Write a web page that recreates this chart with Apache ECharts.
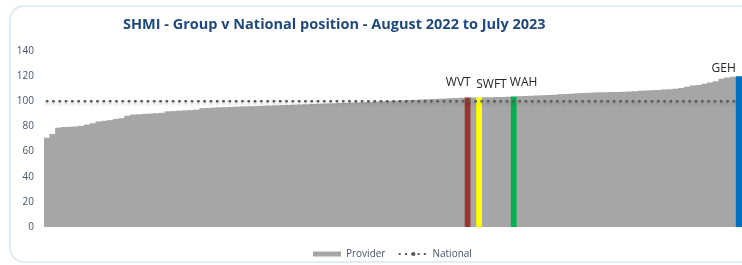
<!DOCTYPE html>
<html>
<head>
<meta charset="utf-8">
<script src="https://cdn.jsdelivr.net/npm/echarts@6/dist/echarts.min.js"></script>
<style>
  html, body { margin: 0; padding: 0; background: #fff; }
  #chart { width: 742px; height: 265px; }
</style>
</head>
<body>
<div id="chart"></div>
<script>
// SHMI per provider, sorted low to high
var providerValues = [
    71, 74, 79, 79.5, 79.7, 80, 80.5, 81.5, 82.5, 84,
    84.5, 85, 86, 86.5, 88.5, 89.5, 89.7, 90, 90.2, 90.5,
    90.8, 92, 92.2, 92.5, 92.8, 93, 93.3, 94.5, 94.7, 95,
    95.2, 95.3, 95.5, 95.7, 95.9, 96, 96.1, 96.3, 96.5, 96.6,
    96.8, 97, 97.1, 97.3, 97.5, 97.6, 97.8, 98, 98.1, 98.3,
    98.4, 98.6, 98.8, 99, 99.1, 99.3, 99.5, 99.7, 99.9, 100.1,
    100.3, 100.5, 100.7, 101, 101.2, 101.4, 101.6, 101.8, 102, 102.2,
    102.4, 102.6, 102.8, 103, 103, 103.1, 103.2, 103.3, 103.4, 103.5,
    103.6, 103.8, 104, 104.2, 104.4, 104.6, 104.8, 105, 105.2, 105.5,
    105.8, 106, 106.3, 106.5, 106.7, 107, 107.1, 107.2, 107.3, 107.4,
    107.5, 107.7, 108, 108.3, 108.5, 108.8, 109, 109.3, 109.6, 110,
    110.5, 111.5, 112.5, 113, 114, 115, 116, 118, 119, 119.5,
    120
];
var nationalValue = 100;
var highlightNames = ['WVT', 'SWFT', 'WAH', 'GEH'];
var highlightIndex = [73, 75, 81, 120];
var yTicks = [0, 20, 40, 60, 80, 100, 120, 140];

addLoadEvent(function() {
    var myChart = echarts.init(document.getElementById('chart')),
        colors = { WVT: '#953735', SWFT: '#FFFF00', WAH: '#00B050', GEH: '#0070C0' },
        // label placement relative to the bar rect
        labelPos = {
            WVT: { position: [6, -15], align: 'right' },
            SWFT: { position: [0, -13], align: 'left' },
            WAH: { position: [-1, -14], align: 'left' },
            GEH: { position: [0, -8], align: 'right' }
        },
        categories = providerValues.map(function(v, i) {
            var k = highlightIndex.indexOf(i);
            return k >= 0 ? highlightNames[k] : 'P' + (i + 1);
        }),
        barData = providerValues.map(function(v, i) {
            var k = highlightIndex.indexOf(i);
            if (k < 0) return v;
            var name = highlightNames[k];
            return {
                value: v,
                itemStyle: { color: colors[name] },
                label: {
                    show: true,
                    formatter: name,
                    position: labelPos[name].position,
                    align: labelPos[name].align,
                    verticalAlign: 'middle',
                    color: '#262626',
                    fontSize: 12,
                    fontFamily: 'Open Sans'
                }
            };
        }),
        option = {
            backgroundColor: '#ffffff',
            animation: false,
            title: {
                text: 'SHMI - Group v National position - August 2022 to July 2023',
                left: 118,
                top: 12,
                textStyle: {
                    color: '#1F497D',
                    fontSize: 14.5,
                    fontWeight: 'bold',
                    fontFamily: 'Open Sans'
                }
            },
            graphic: [
                {
                    type: 'rect',
                    shape: { x: 10, y: 6, width: 760, height: 256, r: 14 },
                    style: { fill: 'none', stroke: '#DCE6F2', lineWidth: 1.5 },
                    silent: true
                }
            ],
            legend: {
                left: 308,
                top: 244,
                itemWidth: 28,
                itemHeight: 5,
                itemGap: 13,
                textStyle: { color: '#44546A', fontSize: 10, fontFamily: 'Open Sans' },
                data: [
                    { name: 'Provider', icon: 'rect' },
                    { name: 'National' }
                ]
            },
            grid: {
                left: 44,
                top: 51,
                width: 701,
                height: 176
            },
            xAxis: {
                type: 'category',
                data: categories,
                axisLine: { show: false },
                axisTick: { show: false },
                axisLabel: { show: false }
            },
            yAxis: {
                type: 'value',
                min: yTicks[0],
                max: yTicks[yTicks.length - 1],
                interval: 20,
                splitLine: { show: false },
                axisLine: { show: false },
                axisTick: { show: false },
                axisLabel: {
                    color: '#44546A',
                    fontSize: 10,
                    fontFamily: 'Open Sans',
                    margin: 10
                }
            },
            series: [
                {
                    name: 'Provider',
                    type: 'bar',
                    data: barData,
                    barWidth: 6.6,
                    itemStyle: { color: '#A6A6A6' },
                    z: 2
                },
                {
                    name: 'National',
                    type: 'line',
                    data: providerValues.map(function() { return nationalValue; }),
                    symbol: 'none',
                    itemStyle: { color: '#595959' },
                    lineStyle: {
                        color: '#595959',
                        width: 2.5,
                        type: [0.5, 5.8],
                        cap: 'round',
                        shadowColor: 'rgba(0,0,0,0.25)',
                        shadowBlur: 3,
                        shadowOffsetY: 2
                    },
                    z: 3
                }
            ]
        };
    myChart.setOption(option);
});

function addLoadEvent(fn) {
    if (document.readyState === 'complete') fn();
    else window.addEventListener('load', fn);
}
</script>
</body>
</html>
